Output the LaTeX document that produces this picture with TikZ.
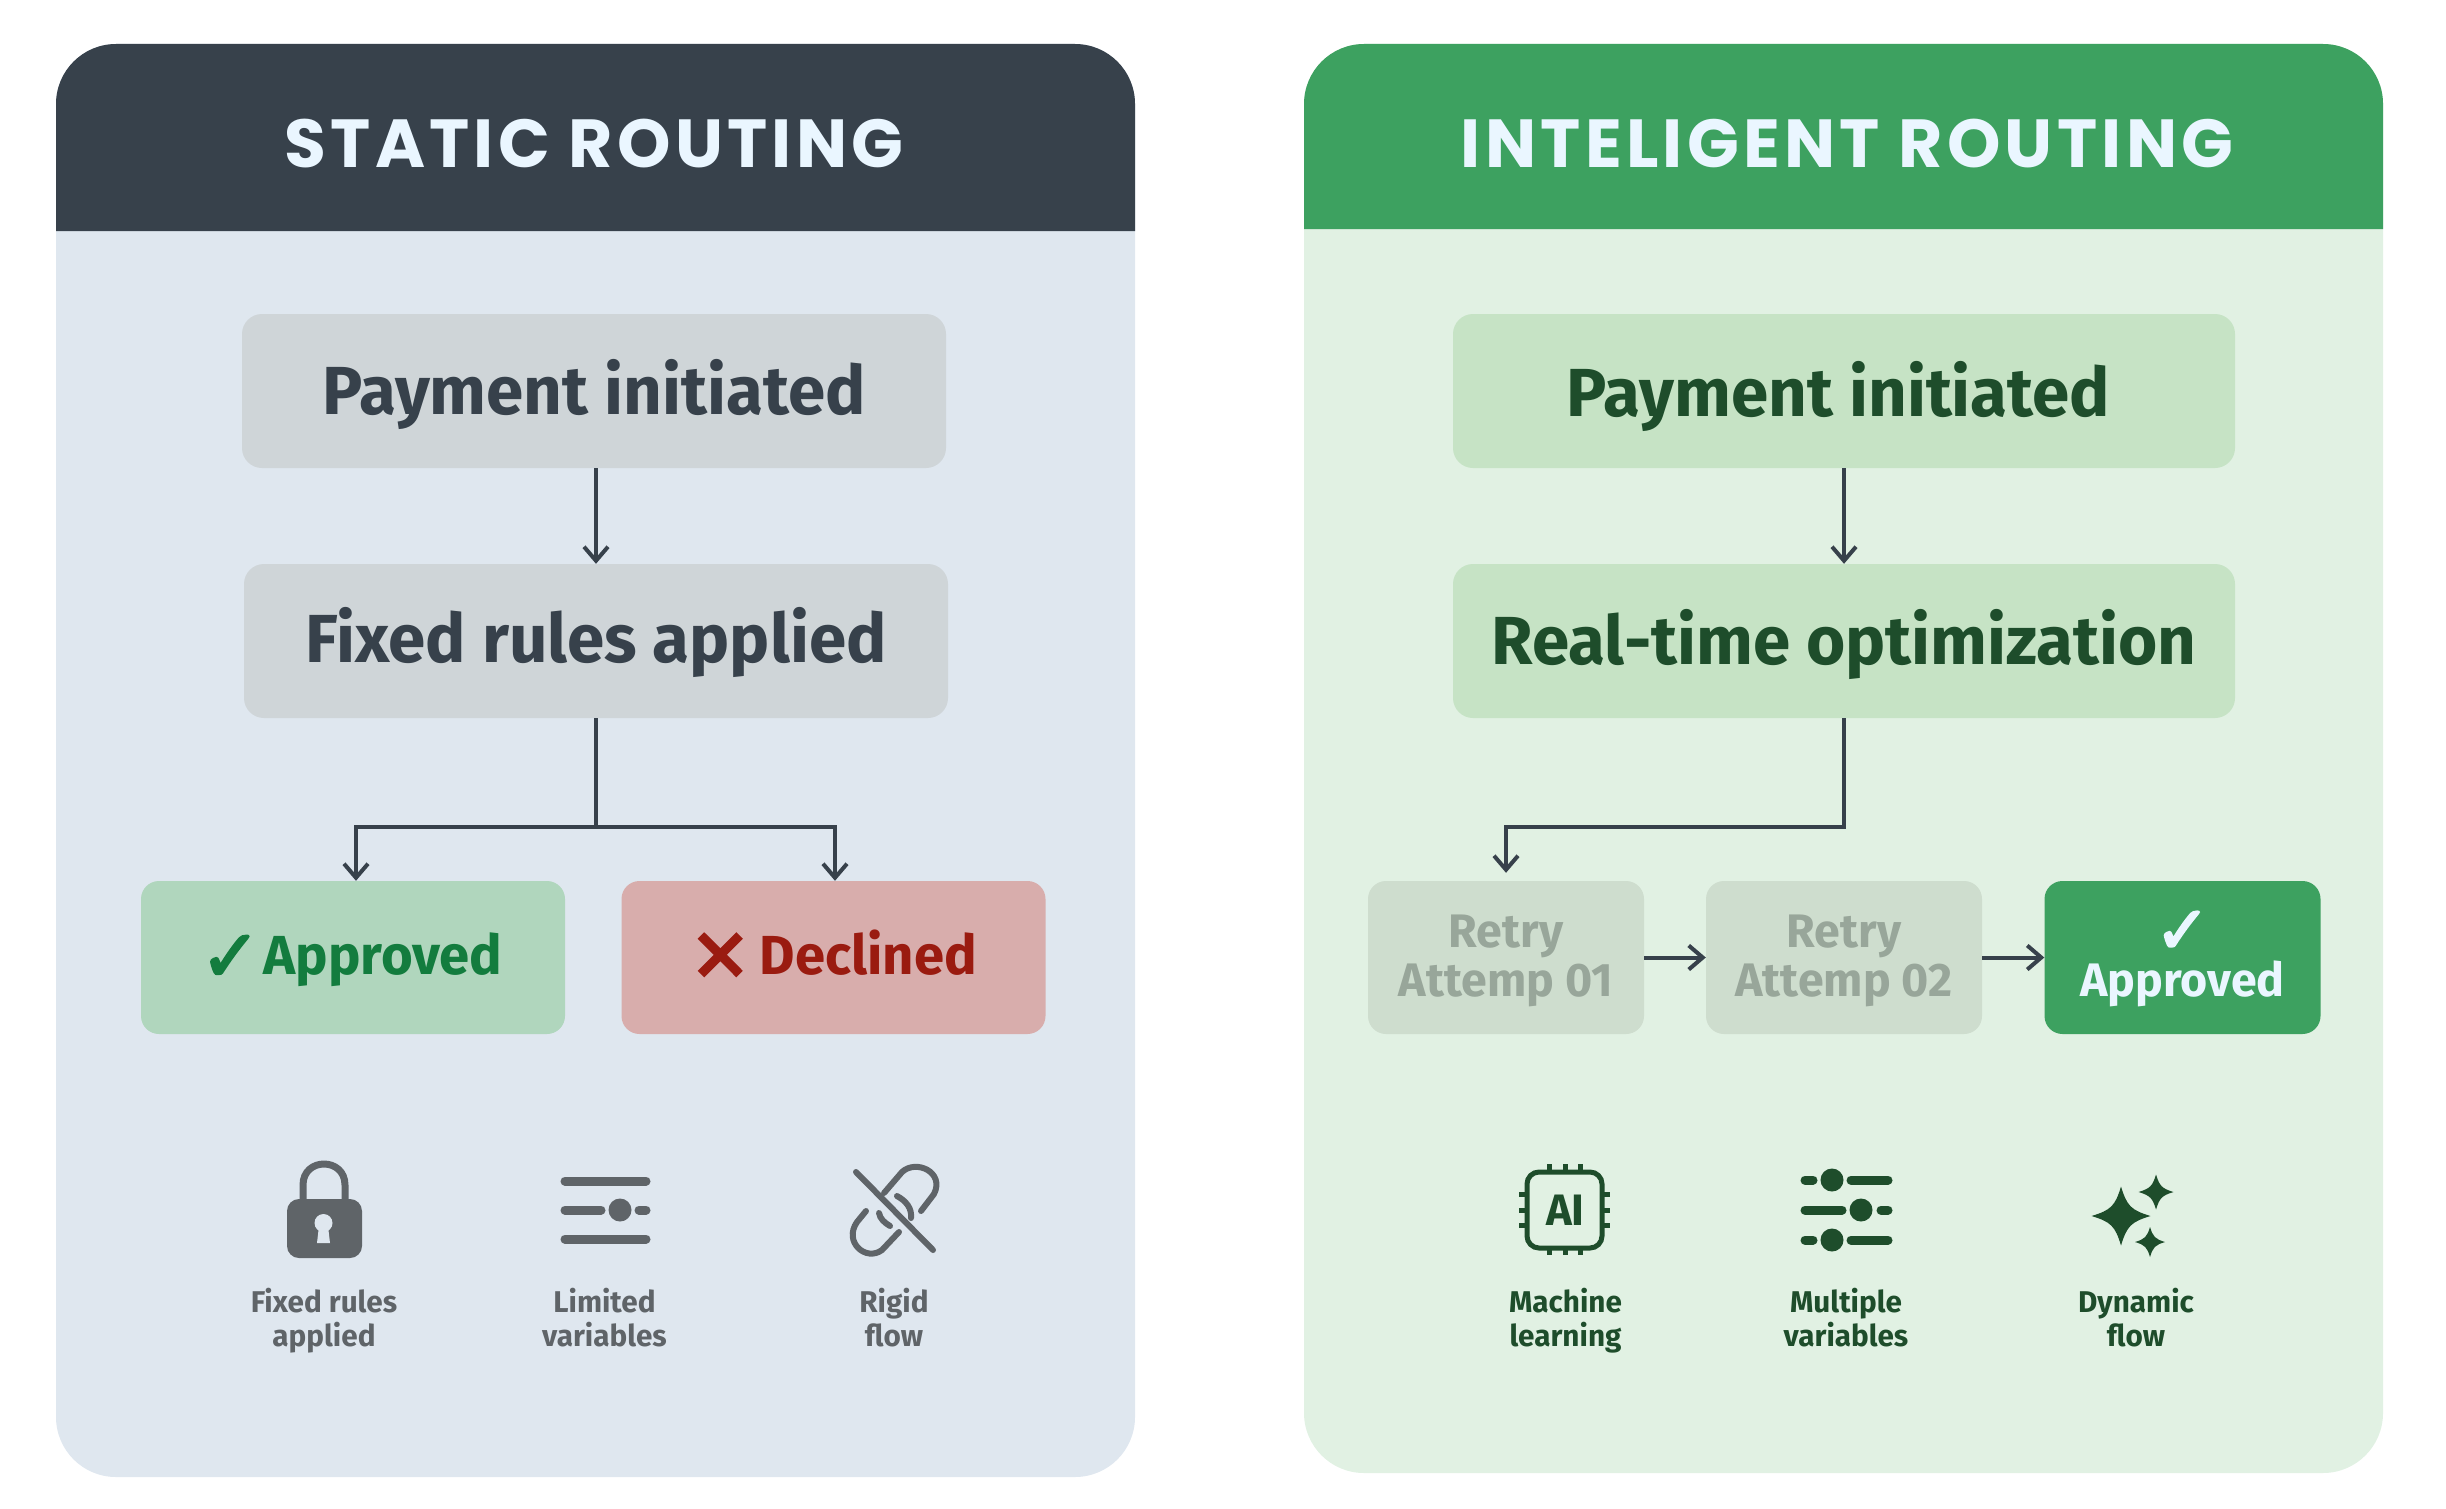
\documentclass[tikz,border=0pt]{standalone}
\usepackage{fontspec}
\usetikzlibrary{arrows.meta}
\setmainfont{Fira Sans}[BoldFont=* Bold,FakeStretch=0.99]
\newfontfamily\headfont{Poppins}[BoldFont=* Bold,LetterSpace=6.3]
\newfontfamily\symfont{DejaVu Sans}[FakeBold=3]
\definecolor{slateDark}{HTML}{37414B}
\definecolor{slateBody}{HTML}{DFE7EF}
\definecolor{slateBox}{HTML}{CFD5D8}
\definecolor{slateIcon}{HTML}{5F6468}
\definecolor{greenHead}{HTML}{3DA160}
\definecolor{greenBody}{HTML}{E1F1E3}
\definecolor{greenBox}{HTML}{C6E3C5}
\definecolor{greenText}{HTML}{1E4D2B}
\definecolor{okBox}{HTML}{B0D6BD}
\definecolor{okText}{HTML}{137C3E}
\definecolor{noBox}{HTML}{D8ADAC}
\definecolor{noText}{HTML}{9A1B10}
\definecolor{retryBox}{HTML}{CEDDCE}
\definecolor{retryText}{HTML}{98A69A}
\definecolor{titleText}{HTML}{EAF6FF}
\newcommand{\checkmk}{\raisebox{-7pt}{\symfont\fontsize{72}{54}\selectfont ✓}}
\newcommand{\crossmk}{\raisebox{-7pt}{\symfont\fontsize{72}{54}\selectfont ✕}}
\tikzset{
	title/.style={font=\headfont\bfseries\fontsize{68}{68}\selectfont,text=titleText,text height=48pt,text depth=0pt,inner sep=0pt},
	flowbox/.style={rounded corners=20pt,inner sep=0pt,minimum width=704pt,minimum height=154pt,font=\bfseries\fontsize{68}{68}\selectfont,text height=46pt,text depth=0pt},
	endbox/.style={rounded corners=18pt,inner sep=0pt,minimum width=424pt,minimum height=153pt,font=\bfseries\fontsize{55}{54}\selectfont,text height=33pt,text depth=0pt},
	smallbox/.style={rounded corners=18pt,inner sep=0pt,minimum width=276pt,minimum height=153pt,align=center,font=\bfseries\fontsize{47}{49}\selectfont,text height=77pt,text depth=0pt},
	caption/.style={inner sep=0pt,align=center,font=\bfseries\fontsize{30}{33.5}\selectfont,text height=32pt,text depth=0pt},
	flowarrow/.style={line width=4pt,draw=slateDark,-{Straight Barb[length=14pt,width=24pt,line width=4pt]}},
	iconline/.style={line width=9pt,line cap=round},
	linkline/.style={line width=6pt,line cap=round},
	sparkle/.pic={\fill (0,-1) .. controls (.2,-.34) and (.34,-.2) .. (1,0) .. controls (.34,.2) and (.2,.34) .. (0,1) .. controls (-.2,.34) and (-.34,.2) .. (-1,0) .. controls (-.34,-.2) and (-.2,-.34) .. (0,-1) -- cycle;}
}
\begin{document}
\begin{tikzpicture}[x=1pt,y=-1pt]
	\useasboundingbox (0,0) rectangle (2446,1509);
	
	% left panel
	\fill[slateBody,rounded corners=60pt] (56,44) rectangle (1135,1477);
	\fill[slateDark] (56,231) [rounded corners=60pt] -- (56,44) -- (1135,44) [sharp corners] -- (1135,231) -- cycle;
	\node[title] (titleA) at (594,143) {STATIC ROUTING};
	
	% left flow
	\node[flowbox,fill=slateBox,text=slateDark] (payA) at (594,391) {Payment initiated};
	\node[flowbox,fill=slateBox,text=slateDark,text height=42pt] (rulesA) at (596,641) {Fixed rules applied};
	\node[endbox,fill=okBox,text=okText] (okA) at (353,957.5) {\checkmk\kern3pt Approved\kern3pt};
	\node[endbox,fill=noBox,text=noText] (noA) at (833.5,957.5) {\crossmk\,Declined};
	
	%arrows
	\draw[flowarrow] (payA.south -| rulesA.north) -- (rulesA.north);
	\draw[flowarrow] (rulesA.south) -- ++(0,109) -| ([xshift=3pt]okA.north);
	\draw[flowarrow] (rulesA.south) -- ++(0,109) -| ([xshift=1.5pt]noA.north);
	
	% lock
	\fill[slateIcon,rounded corners=12pt] (287,1199) rectangle (362,1258);
	\draw[slateIcon,line width=7pt] (303,1200) -- (303,1185) .. controls (303,1157) and (345,1157) .. (345,1185) -- (345,1200);
	\fill[slateBody] (323.5,1223) circle (9pt);
	\fill[slateBody] (319,1226) -- (328,1226) -- (330,1243) -- (317,1243) -- cycle;
	
	% limited sliders
	\draw[slateIcon,iconline] (565,1181) -- (646,1181);
	\draw[slateIcon,iconline] (565,1210) -- (601,1210);
	\fill[slateIcon] (620,1210) circle (11.5pt);
	\draw[slateIcon,iconline] (639,1210) -- (646,1210);
	\draw[slateIcon,iconline] (565,1239) -- (646,1239);
	
	% broken link
	\draw[slateIcon,linkline] (856,1172) -- (933,1250);
	\draw[slateIcon,linkline] (884,1193) -- (902,1172) .. controls (916,1159) and (945,1172) .. (934,1194) -- (921,1211);
	\draw[slateIcon,linkline] (897,1196) .. controls (906,1201) and (912,1208) .. (911,1218);
	\draw[slateIcon,linkline] (866,1211) -- (857,1222) .. controls (843,1242) and (866,1262) .. (882,1250) -- (899,1232);
	\draw[slateIcon,linkline] (879,1213) .. controls (880,1219) and (885,1223) .. (890,1226);
	
	% left captions
	\node[caption,text=slateIcon] (capA1) at (324,1330) {Fixed rules\\applied};
	\node[caption,text=slateIcon] (capA2) at (604.5,1330) {Limited\\variables};
	\node[caption,text=slateIcon] (capA3) at (894,1330) {Rigid\\flow};
	
	% right panel
	\fill[greenBody,rounded corners=60pt] (1304,44) rectangle (2383,1473);
	\fill[greenHead] (1304,229) [rounded corners=60pt] -- (1304,44) -- (2383,44) [sharp corners] -- (2383,229) -- cycle;
	\node[title] (titleB) at (1847,143) {INTELIGENT ROUTING};
	
	% right flow
	\node[flowbox,fill=greenBox,text=greenText,minimum width=782pt,text height=50pt] (payB) at (1844,391) {Payment initiated\kern11pt};
	\node[flowbox,fill=greenBox,text=greenText,minimum width=782pt] (timeB) at (1844,641) {Real-time optimization};
	\node[smallbox,fill=retryBox,text=retryText] (retryB1) at (1506,957.5) {Retry\\Attemp 01};
	\node[smallbox,fill=retryBox,text=retryText] (retryB2) at (1844,957.5) {Retry\\Attemp 02};
	\node[smallbox,fill=greenHead,text=titleText] (okB) at (2182.5,957.5) {\raisebox{-6pt}{\symfont\fontsize{66}{49}\selectfont ✓}\\Approved};
	
	%arrows
	\draw[flowarrow] (payB) -- (timeB);
	\draw[flowarrow,shorten >=8pt] (timeB.south) -- ++(0,109) -| (retryB1.north);
	\draw[flowarrow] (retryB1) -- (retryB2);
	\draw[flowarrow] (retryB2) -- (okB);
	
	% chip
	\draw[greenText,line width=5pt,rounded corners=12pt] (1527,1172) rectangle (1602,1248);
	\foreach \px in {1549,1565,1580} {
		\draw[greenText,line width=5pt] (\px,1164) -- (\px,1172);
		\draw[greenText,line width=5pt] (\px,1248) -- (\px,1255);
	}
	\foreach \py in {1194,1210,1225} {
		\draw[greenText,line width=5pt] (1519,\py) -- (1527,\py);
		\draw[greenText,line width=5pt] (1602,\py) -- (1610,\py);
	}
	\node[inner sep=0pt,text=greenText,font=\bfseries\fontsize{44}{44}\selectfont] (chipB) at (1565.5,1210) {AI};
	
	% multiple sliders
	\foreach \sy/\kx in {1180/1832,1240/1832} {
		\draw[greenText,iconline] (1805,\sy) -- (1813,\sy);
		\fill[greenText] (\kx,\sy) circle (11.5pt);
		\draw[greenText,iconline] (1851,\sy) -- (1888,\sy);
	}
	\draw[greenText,iconline] (1805,1210) -- (1842,1210);
	\fill[greenText] (1861,1210) circle (11.5pt);
	\draw[greenText,iconline] (1881,1210) -- (1888,1210);
	
	% sparkles
	\pic[greenText,scale=29.5] at (2121,1216) {sparkle};
	\pic[greenText,scale=17.5] at (2156,1192) {sparkle};
	\pic[greenText,scale=15] at (2150,1242) {sparkle};
	
	% right captions
	\node[caption,text=greenText] (capB1) at (1565.5,1330) {Machine\\learning};
	\node[caption,text=greenText] (capB2) at (1846,1330) {Multiple\\variables};
	\node[caption,text=greenText] (capB3) at (2136,1330) {Dynamic\\flow};
\end{tikzpicture}
\end{document}
